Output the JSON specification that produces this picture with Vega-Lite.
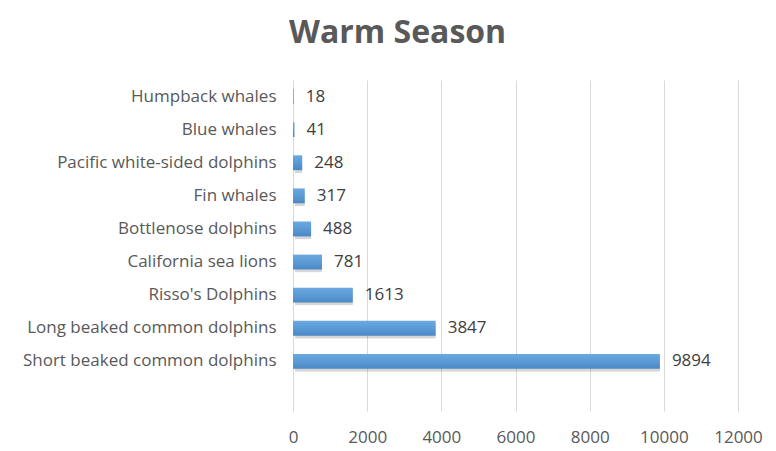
{
  "$schema": "https://vega.github.io/schema/vega-lite/v6.json",
  "width": 445,
  "height": 331,
  "autosize": "none",
  "padding": {"left": 293, "top": 80, "right": 38, "bottom": 40},
  "background": "white",
  "config": {
    "view": {"stroke": null},
    "font": "Open Sans"
  },
  "title": {
    "text": "Warm Season",
    "fontSize": 32,
    "fontWeight": "bold",
    "font": "Open Sans",
    "color": "#595959",
    "anchor": "start",
    "frame": "group",
    "baseline": "alphabetic",
    "offset": 5,
    "dx": -4
  },
  "data": {
    "values": [
      {"species": "Humpback whales", "count": 18},
      {"species": "Blue whales", "count": 41},
      {"species": "Pacific white-sided dolphins", "count": 248},
      {"species": "Fin whales", "count": 317},
      {"species": "Bottlenose dolphins", "count": 488},
      {"species": "California sea lions", "count": 781},
      {"species": "Risso's Dolphins", "count": 1613},
      {"species": "Long beaked common dolphins", "count": 3847},
      {"species": "Short beaked common dolphins", "count": 9894}
    ]
  },
  "encoding": {
    "y": {
      "field": "species",
      "type": "nominal",
      "scale": {
        "domain": ["Humpback whales", "Blue whales", "Pacific white-sided dolphins", "Fin whales", "Bottlenose dolphins", "California sea lions", "Risso's Dolphins", "Long beaked common dolphins", "Short beaked common dolphins", " "],
        "paddingInner": 0.55,
        "paddingOuter": 0.275
      },
      "axis": {
        "title": null,
        "domain": false,
        "ticks": false,
        "grid": false,
        "labelPadding": 17,
        "labelFontSize": 17,
        "labelLimit": 0,
        "labelColor": "#595959",
        "labelFont": "Open Sans"
      }
    },
    "x": {
      "field": "count",
      "type": "quantitative",
      "scale": {"domain": [0, 12000], "nice": false},
      "axis": {
        "title": null,
        "domain": false,
        "ticks": false,
        "grid": true,
        "gridColor": "#d9d9d9",
        "values": [0, 2000, 4000, 6000, 8000, 10000, 12000],
        "format": "d",
        "labelPadding": 18,
        "labelFontSize": 17,
        "labelColor": "#595959",
        "labelFont": "Open Sans",
        "labelFlush": false
      }
    }
  },
  "layer": [
    {
      "mark": {"type": "bar", "color": "#000000", "opacity": 0.16, "xOffset": 2, "yOffset": 3, "cornerRadius": 1}
    },
    {
      "mark": {
        "type": "bar",
        "color": {
          "gradient": "linear",
          "x1": 0, "y1": 0, "x2": 0, "y2": 1,
          "stops": [
            {"offset": 0, "color": "#6ca8e2"},
            {"offset": 0.5, "color": "#5b9bd5"},
            {"offset": 1, "color": "#4a88c6"}
          ]
        }
      }
    },
    {
      "mark": {"type": "text", "align": "left", "baseline": "middle", "dx": 12, "fontSize": 17, "font": "Open Sans", "color": "#404040"},
      "encoding": {"text": {"field": "count", "type": "quantitative", "format": "d"}}
    }
  ]
}
